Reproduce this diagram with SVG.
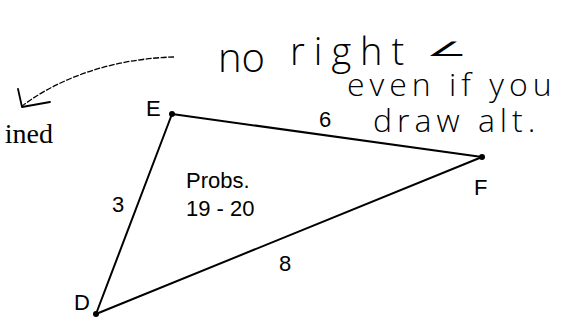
<svg xmlns="http://www.w3.org/2000/svg" width="563" height="329" viewBox="0 0 563 329">
<style>
.lbl{font-family:"Liberation Sans",Arial,sans-serif;font-size:22px;fill:#000}
.hand{font-family:"Open Sans","DejaVu Sans",sans-serif;font-weight:300;fill:#000}
.edge{stroke:#000;stroke-width:2;fill:none;stroke-linecap:round}
</style>
<rect width="563" height="329" fill="#fff"/>
<g id="connectors">
<line class="edge" x1="172" y1="114" x2="482" y2="157"/>
<line class="edge" x1="482" y1="157" x2="96" y2="314"/>
<line class="edge" x1="96" y1="314" x2="172" y2="114"/>
<path d="M174,57 C130,58 70,70 22,106" fill="none" stroke="#000" stroke-width="1.3" stroke-dasharray="6,1.5"/>
<path d="M18,89 L22,107 L50,102" fill="none" stroke="#000" stroke-width="1.8" stroke-linecap="round" stroke-linejoin="round"/>
</g>
<g id="E"><circle cx="172" cy="114" r="3"/><text class="lbl" x="146" y="116">E</text></g>
<g id="F"><circle cx="482" cy="157" r="3"/><text class="lbl" x="474" y="195">F</text></g>
<g id="D"><circle cx="96" cy="314" r="3"/><text class="lbl" x="74" y="310">D</text></g>
<g id="labels">
<text class="lbl" x="319" y="127">6</text>
<text class="lbl" x="112" y="212">3</text>
<text class="lbl" x="279" y="271">8</text>
<text class="lbl" x="186" y="188">Probs.</text>
<text class="lbl" x="186" y="216">19 - 20</text>
</g>
<text x="53" y="143" text-anchor="end" font-family="'Liberation Serif','Times New Roman',serif" font-size="28">ined</text>
<g id="note">
<text class="hand"><tspan x="218" y="72" font-size="40">no</tspan><tspan x="290" y="65" font-size="38" letter-spacing="9">right</tspan></text>
<text class="hand" font-size="30" transform="translate(426,56) scale(1.5,0.65)">∠</text>
<text class="hand" font-size="32" letter-spacing="5" x="347" y="96">even if you</text>
<text class="hand" font-size="32" letter-spacing="5" x="373" y="132">draw alt.</text>
</g>
</svg>
